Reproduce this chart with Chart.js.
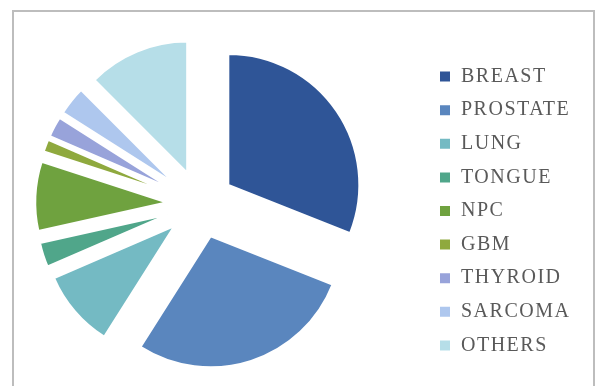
<!DOCTYPE html>
<html>
<head>
<meta charset="utf-8">
<script src="https://cdn.jsdelivr.net/npm/chart.js@4/dist/chart.umd.min.js"></script>
<style>
  html, body { margin: 0; padding: 0; background: #ffffff; }
  #wrap { position: relative; width: 598px; height: 386px; overflow: hidden; }
  #frame {
    position: absolute; left: 12px; top: 10px; width: 583px; height: 400px;
    border: 2px solid #bdbdbd; box-sizing: border-box;
  }
  #chart { position: absolute; left: -25px; top: 0; }
</style>
</head>
<body>
<div id="wrap">
  <div id="frame"></div>
  <canvas id="chart" width="623" height="386"></canvas>
</div>
<script>
// Cancer types and their share of cases (%)
const categories = ['BREAST', 'PROSTATE', 'LUNG', 'TONGUE', 'NPC', 'GBM', 'THYROID', 'SARCOMA', 'OTHERS'];
const shares = [31, 28, 9.5, 3, 8.5, 1.5, 2.5, 3.5, 12.5];
const sliceColors = ['#2F5597', '#5A86BE', '#74BAC3', '#50A68A', '#6FA23F', '#8FA93E', '#98A3DA', '#AEC7EE', '#B6DEE8'];

const EXPLODE = 34;   // how far every wedge is pulled out from the centre, px

// Exploded pie: move each wedge straight out along its bisector,
// keeping its angle and radius unchanged.
const explodeSlices = {
  id: 'explodeSlices',
  afterUpdate(chart) {
    chart.getDatasetMeta(0).data.forEach(arc => {
      const mid = (arc.startAngle + arc.endAngle) / 2;
      arc.x += Math.cos(mid) * EXPLODE;
      arc.y += Math.sin(mid) * EXPLODE;
    });
  }
};

// Spaced capitals in the legend
const spacedText = {
  id: 'spacedText',
  beforeUpdate(chart) { chart.ctx.letterSpacing = '1.5px'; },
  beforeDraw(chart) { chart.ctx.letterSpacing = '1.5px'; }
};

new Chart(document.getElementById('chart'), {
  type: 'pie',
  data: {
    labels: categories,
    datasets: [{
      data: shares,
      backgroundColor: sliceColors,
      borderColor: '#ffffff',
      borderWidth: 2,
      clip: false
    }]
  },
  options: {
    responsive: false,
    animation: false,
    radius: 131,
    layout: { padding: { left: 0, right: 18.6, top: 39, bottom: 17 } },
    plugins: {
      tooltip: { enabled: false },
      legend: {
        position: 'right',
        align: 'end',
        maxWidth: 154,
        labels: {
          boxWidth: 12,
          boxHeight: 12,
          padding: 13.6,
          color: '#595959',
          font: { family: "'Liberation Serif', 'DejaVu Serif', serif", size: 20 }
        }
      }
    }
  },
  plugins: [explodeSlices, spacedText]
});
</script>
</body>
</html>
